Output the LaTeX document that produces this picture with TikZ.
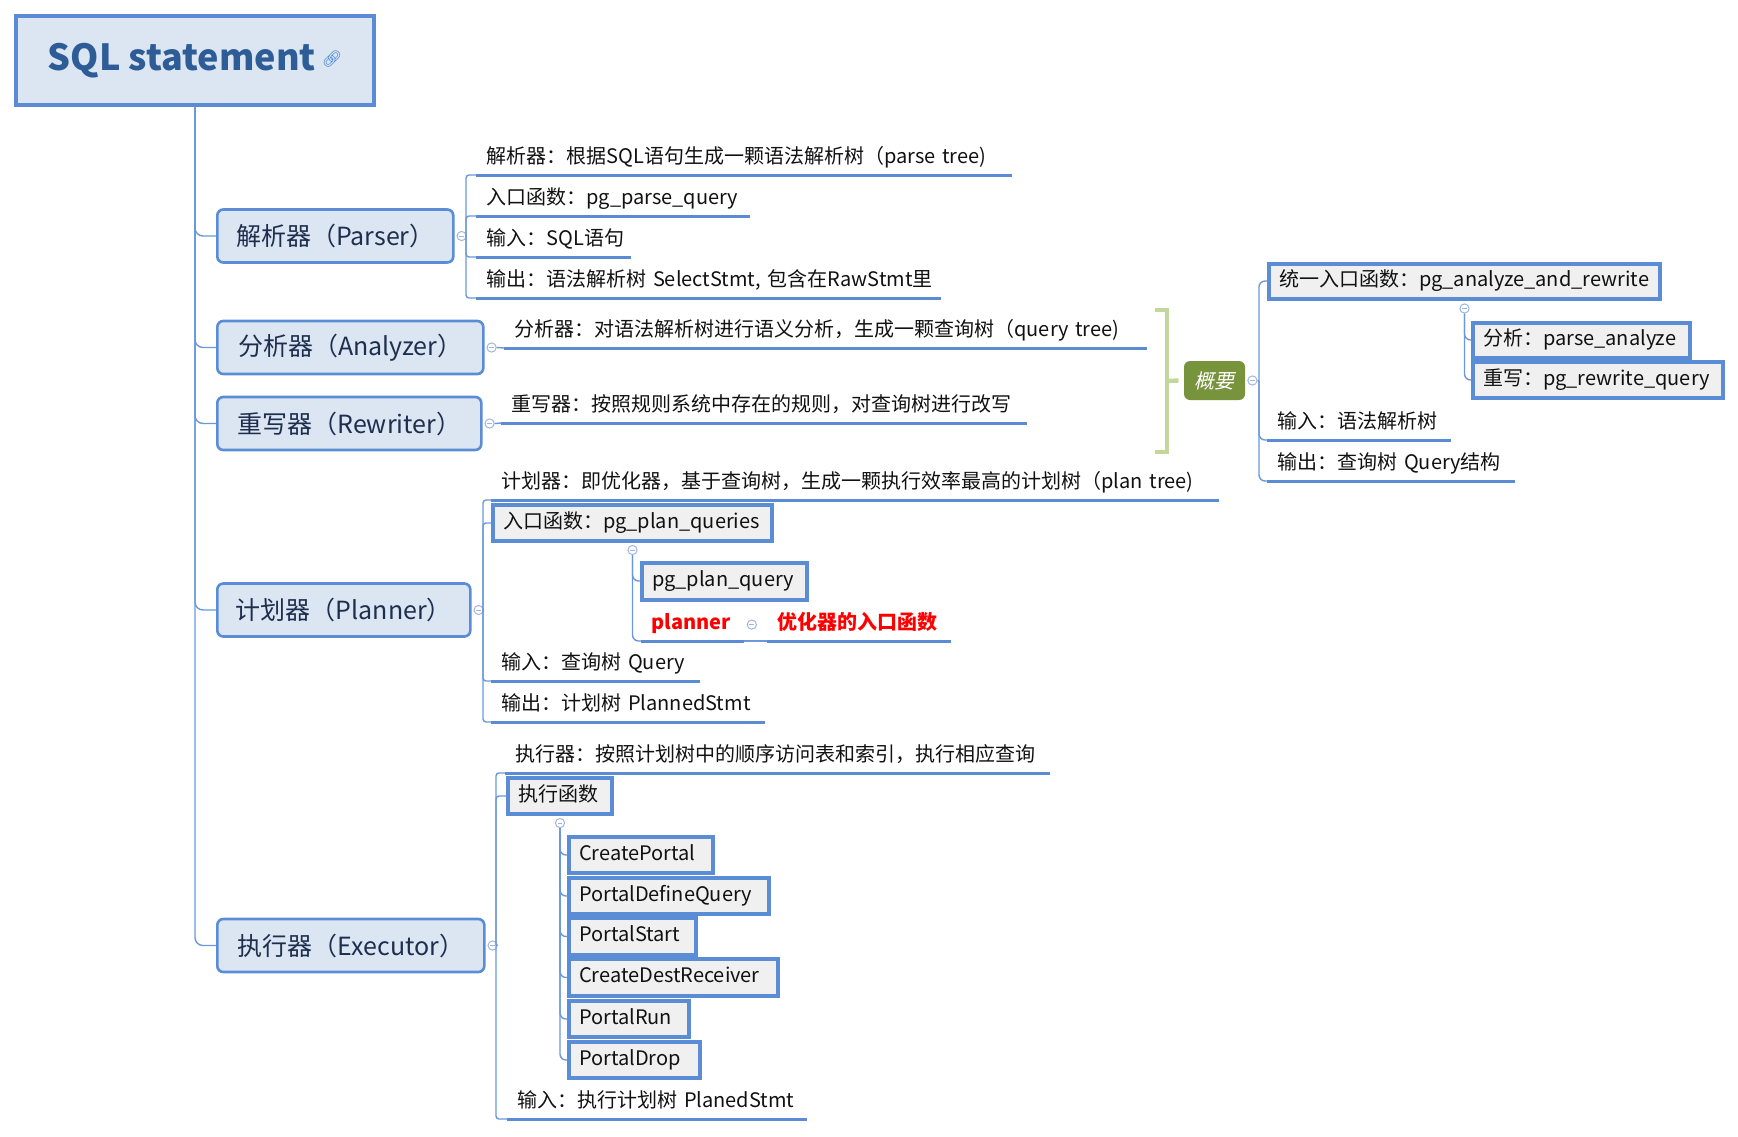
\documentclass[tikz,border=0pt]{standalone}
\usepackage{fontspec}
\setmainfont{Noto Sans CJK SC}
\newfontfamily\slantfont[FakeSlant=0.22]{Noto Sans CJK SC}
\newfontfamily\emojifont{Noto Emoji}
\usetikzlibrary{calc}
\hyphenpenalty=10000
\exhyphenpenalty=10000
\hbadness=10000
\hfuzz=50pt
\definecolor{rootline}{HTML}{5A8BD4}
\definecolor{nodefill}{HTML}{DCE6F2}
\definecolor{boxline}{HTML}{5B8DD6}
\definecolor{boxfill}{HTML}{F0F0F0}
\definecolor{roottext}{HTML}{2E5C97}
\definecolor{lvltext}{HTML}{1E2E4F}
\definecolor{itemtext}{HTML}{111111}
\definecolor{connc}{HTML}{6A98DA}
\definecolor{ulinec}{HTML}{5B8BD3}
\definecolor{ctrlc}{HTML}{9FB7E2}
\definecolor{summfill}{HTML}{77933C}
\definecolor{brkc}{HTML}{C4D79B}
\definecolor{linkc}{HTML}{3F7FD6}
\definecolor{redc}{HTML}{FF0000}
\begin{document}
\begin{tikzpicture}[x=0.5pt,y=-0.5pt,
  rootbox/.style={draw=rootline, fill=nodefill, line width=2.3pt, minimum width=179pt, minimum height=44.5pt, inner sep=0pt, font=\fontsize{18pt}{22pt}\selectfont\bfseries, text=roottext},
  lvl/.style={draw=boxline, fill=nodefill, line width=1.3pt, rounded corners=3pt, minimum height=26.5pt, anchor=west, inner sep=0pt, font=\fontsize{12.5pt}{15pt}\selectfont, text=lvltext},
  item/.style={anchor=south west, inner xsep=5pt, inner ysep=3pt, text height=7.5pt, text depth=2.5pt, align=left, font=\fontsize{10pt}{12pt}\selectfont, text=itemtext},
  gbox/.style={draw=boxline, fill=boxfill, line width=2pt, anchor=west, inner xsep=5pt, inner ysep=0pt, minimum height=18pt, text height=7.5pt, text depth=2.5pt, align=left, font=\fontsize{10pt}{12pt}\selectfont, text=itemtext},
  redtext/.style={text=redc, font=\fontsize{10pt}{12pt}\selectfont\bfseries},
  uln/.style={draw=ulinec, line width=1.5pt},
  conn/.style={draw=connc, line width=0.7pt, rounded corners=3pt},
  ctrl/.style={circle, draw=ctrlc, fill=white, line width=0.5pt, minimum size=4.6pt, inner sep=0pt,
    path picture={\draw[ctrlc, line width=0.5pt] ([xshift=1.1pt]path picture bounding box.west) -- ([xshift=-1.1pt]path picture bounding box.east);}},
  summ/.style={fill=summfill, rounded corners=3pt, minimum width=30.5pt, minimum height=19.5pt, inner sep=0pt, text=white, font=\slantfont\fontsize{10pt}{12pt}\selectfont},
  brk/.style={draw=brkc, line width=2.2pt}
]
\useasboundingbox (0,0) rectangle (1738,1136);

% root
\node[rootbox] (root) at (195,60.5) {SQL statement\,\raisebox{3pt}{\color{linkc}\emojifont\fontsize{8pt}{8pt}\selectfont 🔗}};

% level 1
\node[lvl, minimum width=118pt] (parser) at (216,236) {解析器（Parser）};
\node[lvl, minimum width=133pt] (analyzer) at (216,347.5) {分析器（Analyzer）};
\node[lvl, minimum width=132pt] (rewriter) at (216,423.5) {重写器（Rewriter）};
\node[lvl, minimum width=126.5pt] (planner) at (216,610) {计划器（Planner）};
\node[lvl, minimum width=133.5pt] (executor) at (216,945.5) {执行器（Executor）};

\foreach \n in {parser,analyzer,rewriter,planner,executor}
  \draw[conn, rounded corners=4pt] (root.south) |- (\n.west);

% collapse markers
\node[ctrl] (cpa) at ([xshift=3.5pt]parser.east) {};
\node[ctrl] (can) at ([xshift=3.5pt]analyzer.east) {};
\node[ctrl] (cre) at ([xshift=3.5pt]rewriter.east) {};
\node[ctrl] (cpl) at ([xshift=3.5pt]planner.east) {};
\node[ctrl] (cex) at ([xshift=3.5pt]executor.east) {};

% ---------- Parser ----------
\node[item, text width=257.5pt] (p1) at (476,175) {解析器：根据SQL语句生成一颗语法解析树（parse~tree)};
\node[item, text width=126.5pt] (p2) at (476,216) {入口函数：pg\_parse\_query};
\node[item, text width=67pt] (p3) at (476,257) {输入：SQL语句};
\node[item, text width=222pt] (p4) at (476,298) {\mbox{输出：语法解析树~SelectStmt,~包含在RawStmt里}};
\coordinate (sp) at (466,236);
\draw[conn] (cpa.east) -- (sp);
\foreach \n in {p1,p2,p3,p4} {
  \draw[conn, rounded corners=1.5pt] (sp) |- (\n.south west);
  \draw[uln] (\n.south west) -- (\n.south east);
}

% ---------- Analyzer / Rewriter ----------
\node[item, text width=311pt] (a1) at (504,348) {分析器：对语法解析树进行语义分析，生成一颗查询树（query~tree)};
\draw[conn] (can.east) -- (a1.south west);
\draw[uln] (a1.south west) -- (a1.south east);
\node[item, text width=252.5pt] (r1) at (501,423) {重写器：按照规则系统中存在的规则，对查询树进行改写};
\draw[conn] (cre.east) -- (r1.south west);
\draw[uln] (r1.south west) -- (r1.south east);

% ---------- Summary ----------
\node[summ] (gy) at (1214.5,380.5) {概要};
\draw[brk] (1155,310) -- (1167,310) -- (1167,452) -- (1155,452);
\draw[brk] (1167,381) -- ([xshift=-2.5pt]gy.west);
\node[ctrl] (cgy) at ([xshift=3.5pt]gy.east) {};

\node[gbox, text width=185.5pt, minimum height=17.5pt] (s1) at (1267,281) {统一入口函数：pg\_analyze\_and\_rewrite};
\node[gbox, text width=98.5pt, minimum height=17.5pt] (s2) at (1471,340) {分析：parse\_analyze};
\node[gbox, text width=115pt] (s3) at (1471,380) {重写：pg\_rewrite\_query};
\node[item, text width=81.5pt] (s4) at (1267,440) {输入：语法解析树};
\node[item, text width=113.5pt] (s5) at (1267,481) {输出：查询树~Query结构};
\coordinate (ss) at (1259,381);
\draw[conn] (cgy.east) -- (ss);
\draw[conn] (ss) |- (s1.west);
\draw[conn] (ss) |- (s4.south west);
\draw[conn] (ss) |- (s5.south west);
\draw[uln] (s4.south west) -- (s4.south east);
\draw[uln] (s5.south west) -- (s5.south east);
\node[ctrl] (cs1) at ([yshift=-4pt]s1.south) {};
\draw[conn] (cs1.south) |- (s2.west);
\draw[conn] (cs1.south) |- (s3.west);

% ---------- Planner ----------
\node[item, text width=353.5pt] (pl1) at (491,500) {计划器：即优化器，基于查询树，生成一颗执行效率最高的计划树（plan~tree)};
\node[gbox, text width=129.5pt] (pl2) at (491,523) {入口函数：pg\_plan\_queries};
\node[item, text width=94pt] (pl4) at (491,681) {输入：查询树~Query};
\node[item, text width=126.5pt] (pl5) at (491,722) {输出：计划树~PlannedStmt};
\coordinate (spl) at (483,611);
\draw[conn] (cpl.east) -- (spl);
\draw[conn, rounded corners=1.5pt] (spl) |- (pl1.south west);
\draw[conn, rounded corners=1.5pt] (spl) |- (pl2.west);
\draw[conn, rounded corners=1.5pt] (spl) |- (pl4.south west);
\draw[conn, rounded corners=1.5pt] (spl) |- (pl5.south west);
\foreach \n in {pl1,pl4,pl5} \draw[uln] (\n.south west) -- (\n.south east);
\node[ctrl] (cq) at ([yshift=-3.5pt]pl2.south) {};
\node[gbox, text width=72.5pt, minimum height=18.5pt] (pl3) at (640,581) {pg\_plan\_query};
\node[item, redtext, text width=41pt] (pn) at (641,641) {planner};
\node[item, redtext, text width=81.5pt] (opt) at (767,641) {优化器的入口函数};
\draw[conn] (cq.south) |- (pl3.west);
\draw[conn] (cq.south) |- (pn.south west);
\draw[uln] (pn.south west) -- (pn.south east);
\draw[conn] (pn.south east) -- (opt.south west);
\draw[uln] (opt.south west) -- (opt.south east);
\node[ctrl] (cpn) at ([xshift=4pt]pn.east) {};

% ---------- Executor ----------
\node[item, text width=262pt] (e1) at (505,773) {执行器：按照计划树中的顺序访问表和索引，执行相应查询};
\node[gbox, text width=42pt] (e2) at (506,796) {执行函数};
\node[item, text width=139.5pt] (e3) at (507,1119) {输入：执行计划树~PlanedStmt};
\coordinate (sex) at (496,945);
\draw[conn] (cex.east) -- (sex);
\draw[conn, rounded corners=1.5pt] (sex) |- (e1.south west);
\draw[conn, rounded corners=1.5pt] (sex) |- (e2.west);
\draw[conn, rounded corners=1.5pt] (sex) |- (e3.south west);
\draw[uln] (e1.south west) -- (e1.south east);
\draw[uln] (e3.south west) -- (e3.south east);
\node[ctrl] (cf) at ([yshift=-3.5pt]e2.south) {};
\node[gbox, text width=62pt] (f1) at (567,855) {CreatePortal};
\node[gbox, text width=90pt] (f2) at (567,896) {PortalDefineQuery};
\node[gbox, text width=53.5pt, minimum height=18.5pt] (f3) at (567,936.5) {PortalStart};
\node[gbox, text width=94.5pt, minimum height=18.5pt] (f4) at (567,977.5) {CreateDestReceiver};
\node[gbox, text width=50pt] (f5) at (567,1019) {PortalRun};
\node[gbox, text width=55.5pt] (f6) at (567,1060) {PortalDrop};
\foreach \n in {f1,f2,f3,f4,f5,f6} \draw[conn] (cf.south) |- (\n.west);
\end{tikzpicture}
\end{document}
